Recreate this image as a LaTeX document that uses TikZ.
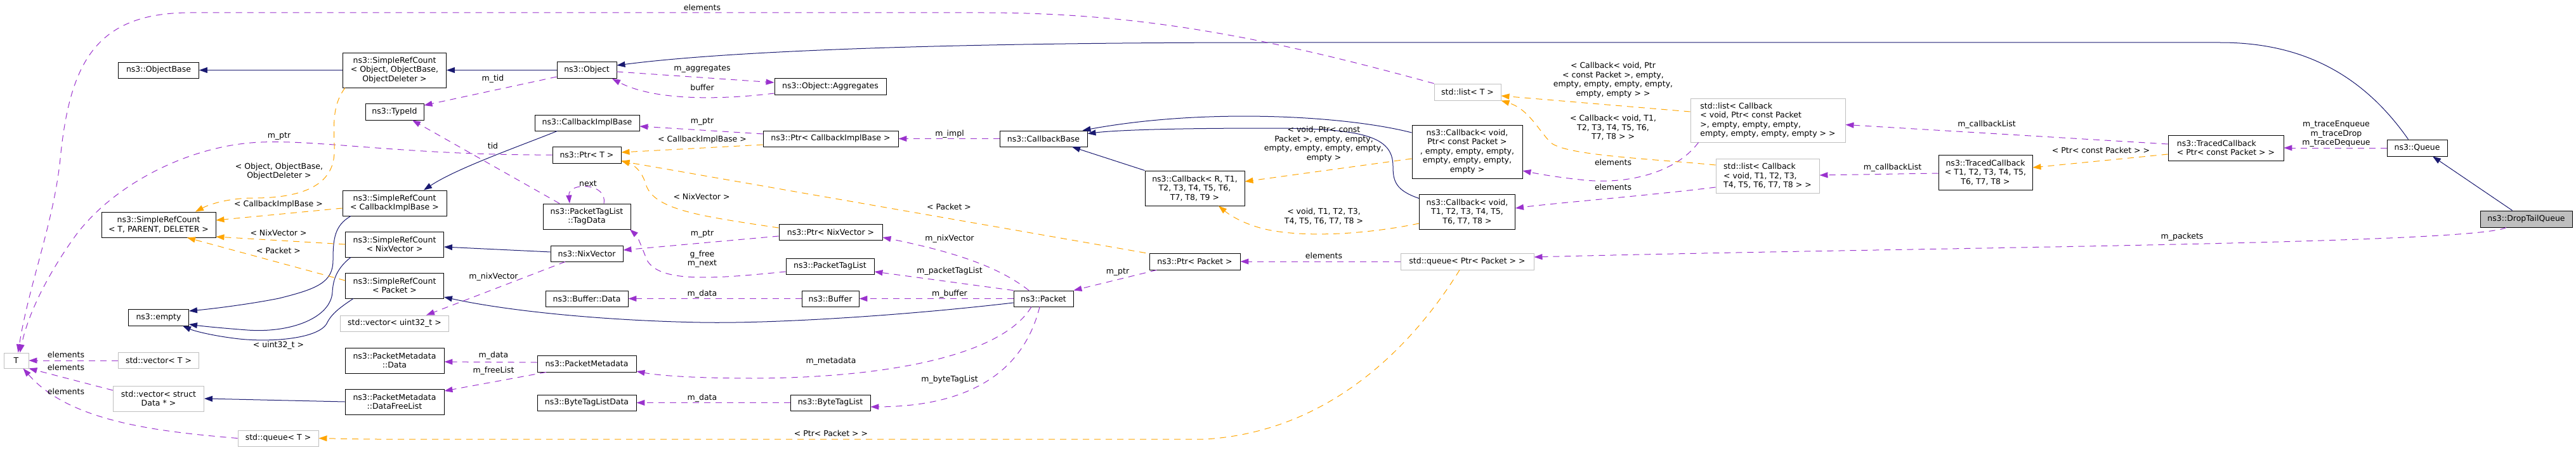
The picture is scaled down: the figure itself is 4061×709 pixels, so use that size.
\documentclass[tikz,border=0pt]{standalone}
\usepackage{fontspec}
\setmainfont{DejaVu Sans}
\usetikzlibrary{arrows.meta}

\definecolor{inhblue}{HTML}{191970}
\definecolor{memviolet}{HTML}{9A32CD}
\definecolor{tplorange}{HTML}{FFA500}
\definecolor{boxgrey}{HTML}{BFBFBF}

\tikzset{
	classbox/.style={draw=black,line width=0.9pt,fill=white,inner sep=0pt,align=center},
	instbox/.style={classbox,draw=boxgrey},
	edgelbl/.style={inner sep=0pt,align=center},
	inhline/.style={-{Triangle[length=13pt,width=9pt]},draw=inhblue,line width=1pt},
	memline/.style={-{Triangle[length=13pt,width=9pt]},draw=memviolet,line width=1pt,dash pattern=on 10pt off 8pt},
	tmplline/.style={-{Triangle[length=13pt,width=9pt]},draw=tplorange,line width=1pt,dash pattern=on 10pt off 8pt}
}

\begin{document}
\begin{tikzpicture}[x=1pt,y=-1pt,font=\fontsize{12.5}{14.5}\selectfont]
	
	\useasboundingbox (0,0) rectangle (4061,709);
	
	% classes
	\node[classbox,minimum width=127pt,minimum height=25pt] (objbase) at (250,110.5) {ns3::ObjectBase};
	\node[classbox,minimum width=163pt,minimum height=55pt] (srcobj) at (622,110.5) {ns3::SimpleRefCount\\< Object, ObjectBase,\\ObjectDeleter >};
	\node[classbox,minimum width=92pt,minimum height=26pt] (typeid) at (622,176) {ns3::TypeId};
	\node[classbox,minimum width=164pt,minimum height=40pt] (srccib) at (622,320) {ns3::SimpleRefCount\\< CallbackImplBase >};
	\node[classbox,minimum width=180pt,minimum height=40pt] (srctpl) at (250,354) {ns3::SimpleRefCount\\< T, PARENT, DELETER >};
	\node[classbox,minimum width=155pt,minimum height=40pt] (srcnix) at (622,385) {ns3::SimpleRefCount\\< NixVector >};
	\node[classbox,minimum width=155pt,minimum height=40pt] (srcpkt) at (622,450) {ns3::SimpleRefCount\\< Packet >};
	\node[classbox,minimum width=95pt,minimum height=26pt] (empty) at (250,500) {ns3::empty};
	\node[classbox,minimum width=156pt,minimum height=40pt] (pmdata) at (622,568) {ns3::PacketMetadata\\::Data};
	\node[classbox,minimum width=156pt,minimum height=40pt] (pmfree) at (622,633) {ns3::PacketMetadata\\::DataFreeList};
	\node[classbox,minimum width=94pt,minimum height=26pt] (object) at (925,110.5) {ns3::Object};
	\node[classbox,minimum width=176pt,minimum height=26pt] (aggr) at (1309,136) {ns3::Object::Aggregates};
	\node[classbox,minimum width=165pt,minimum height=25pt] (cib) at (925.5,193.5) {ns3::CallbackImplBase};
	\node[classbox,minimum width=108pt,minimum height=26pt] (ptrt) at (925,244) {ns3::Ptr< T >};
	\node[classbox,minimum width=213pt,minimum height=25pt] (ptrcib) at (1309.5,218.5) {ns3::Ptr< CallbackImplBase >};
	\node[classbox,minimum width=138pt,minimum height=40pt] (tagdata) at (925,341) {ns3::PacketTagList\\::TagData};
	\node[classbox,minimum width=163pt,minimum height=25pt] (ptrnix) at (1309.5,365.5) {ns3::Ptr< NixVector >};
	\node[classbox,minimum width=114pt,minimum height=25pt] (nixvec) at (925,399.5) {ns3::NixVector};
	\node[classbox,minimum width=139pt,minimum height=25pt] (ptaglist) at (1308.5,419.5) {ns3::PacketTagList};
	\node[classbox,minimum width=130pt,minimum height=25pt] (bufdata) at (925,470.5) {ns3::Buffer::Data};
	\node[classbox,minimum width=90pt,minimum height=25pt] (buffer) at (1309,470.5) {ns3::Buffer};
	\node[classbox,minimum width=156pt,minimum height=26pt] (pmeta) at (925,573) {ns3::PacketMetadata};
	\node[classbox,minimum width=156pt,minimum height=25pt] (btldata) at (925,634.5) {ns3::ByteTagListData};
	\node[classbox,minimum width=126pt,minimum height=25pt] (btl) at (1309,634.5) {ns3::ByteTagList};
	\node[classbox,minimum width=138pt,minimum height=25pt] (cbbase) at (1645,218.5) {ns3::CallbackBase};
	\node[classbox,minimum width=157pt,minimum height=55pt] (cbr) at (1883.5,296.5) {ns3::Callback< R, T1,\\T2, T3, T4, T5, T6,\\T7, T8, T9 >};
	\node[classbox,minimum width=94pt,minimum height=25pt] (packet) at (1645,470.5) {ns3::Packet};
	\node[classbox,minimum width=143pt,minimum height=26pt] (ptrpkt) at (1883.5,412) {ns3::Ptr< Packet >};
	\node[classbox,minimum width=174pt,minimum height=84pt] (cbvp) at (2313,239) {ns3::Callback< void,\\Ptr< const Packet >\\, empty, empty, empty,\\empty, empty, empty,\\empty >};
	\node[classbox,minimum width=151pt,minimum height=55pt] (cbv8) at (2313,333.5) {ns3::Callback< void,\\T1, T2, T3, T4, T5,\\T6, T7, T8 >};
	\node[classbox,minimum width=148pt,minimum height=55pt] (tcb8) at (3130,271.5) {ns3::TracedCallback\\< T1, T2, T3, T4, T5,\\T6, T7, T8 >};
	\node[classbox,align=left,minimum width=182pt,minimum height=40pt] (tcbp) at (3509,233) {ns3::TracedCallback\\< Ptr< const Packet > >};
	\node[classbox,minimum width=95pt,minimum height=26pt] (queue) at (3810.5,233) {ns3::Queue};
	\node[classbox,fill=boxgrey,minimum width=145pt,minimum height=26pt] (droptail) at (3982.5,345) {ns3::DropTailQueue};
	
	% template instances
	\node[instbox,minimum width=171pt,minimum height=25pt] (vecu32) at (622,509.5) {std::vector< uint32\_t >};
	\node[instbox,minimum width=39pt,minimum height=24pt] (tnode) at (25.5,568) {T};
	\node[instbox,minimum width=127pt,minimum height=25pt] (vect) at (250,568) {std::vector< T >};
	\node[instbox,minimum width=143pt,minimum height=40pt] (vecdata) at (250,628) {std::vector< struct\\Data * >};
	\node[instbox,minimum width=127pt,minimum height=25pt] (queuet) at (438.5,690.5) {std::queue< T >};
	\node[instbox,minimum width=105pt,minimum height=26pt] (listt) at (2313.5,145) {std::list< T >};
	\node[instbox,minimum width=210pt,minimum height=26pt] (queuepkt) at (2313,412) {std::queue< Ptr< Packet > >};
	\node[instbox,align=left,minimum width=244pt,minimum height=69pt] (listcbvp) at (2787,189.5) {std::list< Callback\\< void, Ptr< const Packet\\>, empty, empty, empty,\\empty, empty, empty, empty > >};
	\node[instbox,align=left,minimum width=163pt,minimum height=54pt] (listcbv8) at (2786.5,277) {std::list< Callback\\< void, T1, T2, T3,\\ T4, T5, T6, T7, T8 > >};
	
	% inheritance
	\draw[inhline] (srcobj.west) -- (objbase.east);
	\draw[inhline] (object.west) -- (srcobj.east);
	\draw[inhline] ([xshift=-14pt]queue.north) .. controls (3720,110) and (3620,67) .. (3500,67) -- (2000,67) .. controls (1500,67) and (1150,80) .. ([yshift=7.5pt]object.east);
	\draw[inhline] (cbr.north west) -- ([xshift=45pt]cbbase.south);
	\draw[inhline] ([yshift=30pt]cbvp.west) .. controls (2120,182) and (1900,170) .. ([xshift=-8pt]cbbase.north east);
	\draw[inhline] ([yshift=-7pt]cbv8.north west) .. controls (2200,300) and (2196,285) .. (2196,262) .. controls (2196,215) and (2150,202) .. (2000,202) .. controls (1850,202) and (1760,205) .. ([yshift=8pt]cbbase.east);
	\draw[inhline] ([xshift=-69pt]srccib.south) .. controls (528,355) and (525,375) .. (525,410) .. controls (525,445) and (500,455) .. (440,470) .. controls (390,480) and (330,487) .. ([yshift=10pt]empty.east);
	\draw[inhline] ([xshift=-69pt]srcnix.south) .. controls (528,425) and (525,445) .. (524,460) .. controls (522,500) and (460,525) .. (390,520) .. controls (350,517) and (320,514) .. ([yshift=-11pt]empty.east);
	\draw[inhline] ([xshift=-65pt]srcpkt.south) .. controls (535,485) and (522,495) .. (515,510) .. controls (500,535) and (420,540) .. (369,533) .. controls (330,528) and (305,521) .. ([xshift=38pt]empty.south);
	\draw[inhline] ([xshift=-47pt]cib.south) .. controls (820,230) and (720,265) .. ([xshift=46pt]srccib.north);
	\draw[inhline] ([yshift=2.5pt]nixvec.west) -- ([yshift=-4pt]srcnix.east);
	\draw[inhline] ([yshift=-6.5pt]packet.west) .. controls (1400,500) and (1200,510) .. (1104,508) .. controls (950,505) and (800,490) .. ([yshift=-18pt]srcpkt.east);
	\draw[inhline] (pmfree.west) -- (vecdata.east);
	\draw[inhline] ([xshift=-22pt]droptail.north) -- ([xshift=24.5pt]queue.south);
	
	% members
	\draw[memline] (listt.north west) .. controls (2000,60) and (1800,20) .. (1550,20) -- (300,20) .. controls (150,20) and (110,100) .. (95,250) .. controls (85,350) and (45,450) .. ([xshift=3pt]tnode.north);
	\draw[memline] (ptrt.west) .. controls (650,245) and (500,220) .. (412,224) .. controls (300,228) and (180,290) .. (120,370) .. controls (80,425) and (45,490) .. ([xshift=6pt]tnode.north);
	\draw[memline] ([yshift=-10.5pt]object.west) -- ([yshift=10pt]typeid.east);
	\draw[memline] ([xshift=-43pt]tagdata.north) -- ([xshift=28pt]typeid.south);
	\draw[memline] ([yshift=-2.5pt]object.east) -- ([yshift=6pt]aggr.west);
	\draw[memline] ([yshift=-11pt]aggr.west) .. controls (1130,158) and (1030,158) .. ([xshift=40pt]object.south);
	\draw[memline] ([yshift=7.5pt]ptrcib.west) -- ([yshift=-5.5pt]cib.east);
	\draw[memline] (cbbase.west) -- (ptrcib.east);
	\draw[memline] ([yshift=-6.5pt]ptrnix.west) -- ([yshift=5.5pt]nixvec.east);
	\draw[memline] ([yshift=-8.5pt]ptaglist.west) .. controls (1120,440) and (1040,445) .. (1020,410) .. controls (1012,390) and (1005,372) .. ([xshift=68pt]tagdata.south);
	\draw[memline] ([xshift=27pt]tagdata.north) .. controls (958,287) and (895,287) .. ([xshift=-27pt]tagdata.north);
	\draw[memline] (buffer.west) -- (bufdata.east);
	\draw[memline] (packet.west) -- (buffer.east);
	\draw[memline] (packet.north west) -- ([yshift=-8.5pt]ptaglist.east);
	\draw[memline] ([xshift=-23pt]packet.north) .. controls (1580,425) and (1520,400) .. ([yshift=-8.5pt]ptrnix.east);
	\draw[memline] ([xshift=-60pt]ptrpkt.south) -- (packet.north east);
	\draw[memline] ([xshift=-19pt]packet.south) .. controls (1580,560) and (1400,595) .. (1190,596) .. controls (1100,596) and (1040,592) .. ([yshift=-12pt]pmeta.east);
	\draw[memline] ([xshift=-6pt]packet.south) .. controls (1620,560) and (1560,640) .. ([yshift=-6.5pt]btl.east);
	\draw[memline] (btl.west) -- (btldata.east);
	\draw[memline] ([yshift=2pt]pmeta.west) -- ([yshift=-2pt]pmdata.east);
	\draw[memline] ([xshift=-64pt]pmeta.south) -- ([yshift=17pt]pmfree.east);
	\draw[memline] ([xshift=-34pt]nixvec.south) -- ([xshift=50pt]vecu32.north);
	\draw[memline] (vect.west) -- (tnode.east);
	\draw[memline] ([yshift=13pt]vecdata.west) -- (tnode.south east);
	\draw[memline] (queuet.west) .. controls (250,680) and (110,665) .. ([xshift=11pt]tnode.south);
	\draw[memline] (queuepkt.west) -- (ptrpkt.east);
	\draw[memline] ([xshift=-31.5pt]droptail.south) .. controls (3900,385) and (3000,390) .. ([yshift=7pt]queuepkt.east);
	\draw[memline] ([yshift=6pt]tcbp.west) -- ([yshift=-7pt]listcbvp.east);
	\draw[memline] ([yshift=-1.5pt]tcb8.west) -- ([yshift=1pt]listcbv8.east);
	\draw[memline] (queue.west) -- (tcbp.east);
	\draw[memline] ([xshift=13pt]listcbvp.south west) .. controls (2640,275) and (2560,290) .. (2500,284) .. controls (2460,280) and (2430,275) .. ([yshift=-30pt]cbvp.east);
	\draw[memline] ([yshift=-18pt]listcbv8.west) .. controls (2600,308) and (2450,320) .. ([yshift=5.5pt]cbv8.east);
	
	% template arguments
	\draw[tmplline] ([xshift=-78pt]srcobj.south) .. controls (520,170) and (528,210) .. (527,240) .. controls (526,290) and (480,312) .. (400,312) .. controls (360,312) and (330,322) .. ([xshift=58pt]srctpl.north);
	\draw[tmplline] ([yshift=-8pt]srccib.west) -- ([yshift=7pt]srctpl.east);
	\draw[tmplline] (srcnix.west) -- ([yshift=-19pt]srctpl.east);
	\draw[tmplline] ([yshift=8pt]srcpkt.west) -- ([xshift=45pt]srctpl.south);
	\draw[tmplline] ([yshift=-9.5pt]ptrcib.west) -- ([yshift=4pt]ptrt.east);
	\draw[tmplline] ([yshift=6.5pt]ptrnix.west) .. controls (1100,340) and (1030,330) .. (1018,290) .. controls (1012,270) and (1000,260) .. ([yshift=-9pt]ptrt.east);
	\draw[tmplline] ([xshift=-77.5pt]ptrpkt.north) -- ([yshift=-10pt]ptrt.east);
	\draw[tmplline] ([yshift=-11pt]cbvp.west) -- ([yshift=10.5pt]cbr.east);
	\draw[tmplline] ([yshift=-18.5pt]cbv8.west) .. controls (2150,370) and (2050,375) .. (1990,360) .. controls (1960,352) and (1940,340) .. ([xshift=37.5pt]cbr.south);
	\draw[tmplline] ([yshift=13.5pt]listcbvp.west) -- ([yshift=-6pt]listt.east);
	\draw[tmplline] ([yshift=17pt]listcbv8.west) .. controls (2600,250) and (2470,245) .. (2445,225) .. controls (2425,205) and (2410,172) .. (listt.south east);
	\draw[tmplline] ([yshift=-10pt]tcbp.west) -- ([yshift=7.5pt]tcb8.east);
	\draw[tmplline] ([xshift=-12pt]queuepkt.south) .. controls (2230,540) and (2100,680) .. (1900,692) -- (600,692) .. controls (560,692) and (530,691) .. (queuet.east);
	
	% labels
	\node[edgelbl] (lb1) at (1107,12) {elements};
	\node[edgelbl] (lb2) at (440,215) {m\_ptr};
	\node[edgelbl] (lb3) at (440,270) {< Object, ObjectBase,\\ObjectDeleter >};
	\node[edgelbl] (lb4) at (439,322) {< CallbackImplBase >};
	\node[edgelbl] (lb5) at (439,367) {< NixVector >};
	\node[edgelbl] (lb6) at (439,395) {< Packet >};
	\node[edgelbl] (lb7) at (439,544) {< uint32\_t >};
	\node[edgelbl] (lb8) at (104,559) {elements};
	\node[edgelbl] (lb9) at (104,579) {elements};
	\node[edgelbl] (lb10) at (104,617) {elements};
	\node[edgelbl] (lb11) at (777,124) {m\_tid};
	\node[edgelbl] (lb12) at (1107,109) {m\_aggregates};
	\node[edgelbl] (lb13) at (1107,138) {buffer};
	\node[edgelbl] (lb14) at (1107,192) {m\_ptr};
	\node[edgelbl] (lb15) at (1107,220) {< CallbackImplBase >};
	\node[edgelbl] (lb16) at (777,230) {tid};
	\node[edgelbl] (lb17) at (927,289) {next};
	\node[edgelbl] (lb18) at (1106,310) {< NixVector >};
	\node[edgelbl] (lb19) at (1107,369) {m\_ptr};
	\node[edgelbl] (lb20) at (1107,408) {g\_free\\m\_next};
	\node[edgelbl] (lb21) at (778,436) {m\_nixVector};
	\node[edgelbl] (lb22) at (1107,463) {m\_data};
	\node[edgelbl] (lb23) at (778,560) {m\_data};
	\node[edgelbl] (lb24) at (778,584) {m\_freeList};
	\node[edgelbl] (lb25) at (1310,569) {m\_metadata};
	\node[edgelbl] (lb26) at (1107,627) {m\_data};
	\node[edgelbl] (lb27) at (1310,683) {< Ptr< Packet > >};
	\node[edgelbl] (lb28) at (1497,211) {m\_impl};
	\node[edgelbl] (lb29) at (1496,326) {< Packet >};
	\node[edgelbl] (lb30) at (1497,376) {m\_nixVector};
	\node[edgelbl] (lb31) at (1497,427) {m\_packetTagList};
	\node[edgelbl] (lb32) at (1497,463) {m\_buffer};
	\node[edgelbl] (lb33) at (1762,429) {m\_ptr};
	\node[edgelbl] (lb34) at (1497,598) {m\_byteTagList};
	\node[edgelbl] (lb35) at (2087,227) {< void, Ptr< const\\Packet >, empty, empty,\\empty, empty, empty, empty,\\empty >};
	\node[edgelbl] (lb36) at (2087,341) {< void, T1, T2, T3,\\T4, T5, T6, T7, T8 >};
	\node[edgelbl] (lb37) at (2543,126) {< Callback< void, Ptr\\< const Packet >, empty,\\empty, empty, empty, empty,\\empty, empty > >};
	\node[edgelbl] (lb38) at (2543,201) {< Callback< void, T1,\\T2, T3, T4, T5, T6,\\T7, T8 > >};
	\node[edgelbl] (lb39) at (2543,256) {elements};
	\node[edgelbl] (lb40) at (2543,295) {elements};
	\node[edgelbl] (lb41) at (2087,403) {elements};
	\node[edgelbl] (lb42) at (3132,196) {m\_callbackList};
	\node[edgelbl] (lb43) at (2983.5,264) {m\_callbackList};
	\node[edgelbl] (lb44) at (3312,237) {< Ptr< const Packet > >};
	\node[edgelbl] (lb45) at (3683,211) {m\_traceEnqueue\\m\_traceDrop\\m\_traceDequeue};
	\node[edgelbl] (lb46) at (3440,373) {m\_packets};
	
\end{tikzpicture}
\end{document}
